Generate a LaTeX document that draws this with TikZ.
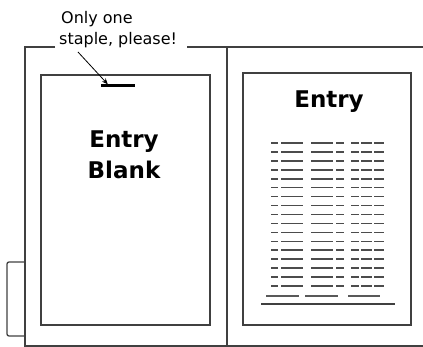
\documentclass[tikz,border=0pt]{standalone}
\usepackage{fontspec}
\setmainfont{DejaVu Sans}
\usetikzlibrary{arrows.meta,positioning}

\begin{document}
\begin{tikzpicture}[x=1pt, y=-1pt,
    >={Stealth[length=6pt,width=5pt]},
    edge/.style={line width=1.3pt, draw=black!75},
    page/.style={draw=black!75, line width=1.3pt, inner sep=0pt},
    ttl/.style={font=\bfseries\fontsize{23}{31}\selectfont, align=center, inner sep=0pt},
    note/.style={font=\fontsize{16}{21}\selectfont, inner sep=0pt},
    staplebar/.style={fill=black, minimum width=34pt, minimum height=3pt, inner sep=0pt},
    rule/.style={line width=1.6pt, draw=black!70},
    thinrule/.style={line width=1.1pt, draw=black!65},
  ]
  \useasboundingbox (0,0) rectangle (423,347);
  % folder
  \node[note, anchor=base west] (only) at (61,24) {Only one};
  \node[note, anchor=base west] (staple) at (59,45) {staple, please!};
  \draw[edge] ([xshift=-4pt]staple.west |- 0,47) -- (25,47) -- (25,346) -- (423,346);
  \draw[edge] ([xshift=10pt]staple.east |- 0,47) -- (423,47);
  \draw[edge] (227,47) -- (227,346);
  \draw[edge, rounded corners=2pt] (25,262) -- (7,262) -- (7,336) -- (25,336);
  % left page
  \node[page, minimum width=169pt, minimum height=250pt] (blank) at (125.5,200) {};
  \node[staplebar] (bar) at (118,86) {};
  \coordinate (tail) at (78,52);
  \draw[->, line width=0.8pt] (tail) -- ([xshift=7pt]bar.north west);
  \node[ttl, anchor=north] (blanktitle) at (124,131) {Entry\\Blank};
  % right page
  \node[page, minimum width=168pt, minimum height=252pt] (entry) at (327,199) {};
  \node[ttl, anchor=base] (entrytitle) at (329,108) {Entry};
  \foreach \r in {0,...,16} {
    \pgfmathsetmacro{\yy}{143+\r*8.94}
    \draw[rule] (271,\yy) -- (278,\yy) (281,\yy) -- (303,\yy);
    \draw[rule] (311,\yy) -- (333,\yy) (336,\yy) -- (344,\yy);
    \draw[rule] (351,\yy) -- (359,\yy) (361,\yy) -- (372,\yy) (374,\yy) -- (384,\yy);
  }
  \draw[thinrule] (266,296) -- (299,296) (305,296) -- (338,296) (348,296) -- (380,296);
  \draw[edge] (261,304) -- (395,304);
\end{tikzpicture}
\end{document}
